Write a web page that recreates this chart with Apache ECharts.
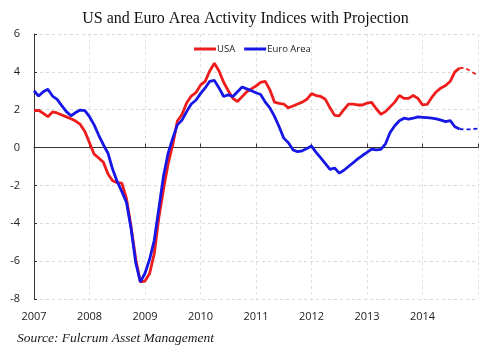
<!DOCTYPE html>
<html>
<head>
<meta charset="utf-8">
<script src="https://cdn.jsdelivr.net/npm/echarts@6/dist/echarts.min.js"></script>
<style>
html,body{margin:0;padding:0;background:#fff;}
#chart{width:491px;height:356px;}
</style>
</head>
<body>
<div id="chart"></div>
<script>
// Monthly index values, Jan 2007 .. Jan 2015
var usa = [
  1.95, 1.97, 1.81, 1.63, 1.88, 1.83, 1.72, 1.62, 1.52, 1.40, 1.22, 0.85,
  0.25, -0.35, -0.55, -0.78, -1.40, -1.75, -1.85, -1.88, -2.70, -4.20, -5.90, -7.10,
  -7.05, -6.65, -5.60, -3.70, -2.20, -0.85, 0.15, 1.40, 1.75, 2.35, 2.72, 2.90,
  3.30, 3.50, 4.05, 4.45, 4.05, 3.45, 3.00, 2.60, 2.43, 2.69, 2.95, 3.10,
  3.25, 3.45, 3.50, 3.05, 2.40, 2.34, 2.30, 2.10, 2.20, 2.30, 2.40, 2.55,
  2.85, 2.75, 2.70, 2.55, 2.10, 1.70, 1.68, 2.00, 2.30, 2.30, 2.25, 2.25,
  2.35, 2.39, 2.05, 1.76, 1.90, 2.15, 2.40, 2.75, 2.60, 2.60, 2.75, 2.60,
  2.25, 2.28, 2.65, 2.95, 3.15, 3.28, 3.50, 4.00, 4.20, 4.22, 4.10, 3.95,
  3.80
];
var euroArea = [
  3.00, 2.72, 2.95, 3.08, 2.72, 2.55, 2.22, 1.90, 1.68, 1.85, 1.98, 1.95,
  1.63, 1.20, 0.65, 0.15, -0.30, -1.15, -1.80, -2.33, -2.90, -4.30, -6.10, -7.10,
  -6.64, -5.90, -4.90, -3.20, -1.50, -0.30, 0.50, 1.20, 1.45, 1.90, 2.30, 2.50,
  2.85, 3.15, 3.50, 3.55, 3.15, 2.70, 2.78, 2.70, 2.95, 3.20, 3.10, 3.00,
  2.90, 2.80, 2.40, 2.10, 1.65, 1.10, 0.50, 0.25, -0.12, -0.22, -0.17, -0.05,
  0.08, -0.25, -0.55, -0.85, -1.15, -1.08, -1.35, -1.20, -1.00, -0.80, -0.60, -0.42,
  -0.25, -0.08, -0.12, -0.10, 0.20, 0.80, 1.15, 1.42, 1.55, 1.50, 1.55, 1.62,
  1.60, 1.58, 1.56, 1.52, 1.45, 1.37, 1.42, 1.10, 0.98, 0.96, 0.96, 0.98,
  1.00
];
var projectionStart = 92; // index of first month shown as projection (dashed)
var yearLabels = ['2007','2008','2009','2010','2011','2012','2013','2014'];
var yTicks = [-8, -6, -4, -2, 0, 2, 4, 6];

function part(arr, from, to) {
  var out = [];
  for (var i = 0; i < arr.length; i++) {
    if (i >= from && i <= to) out.push([i, arr[i]]);
  }
  return out;
}

var RED = '#ee1c1c';
var BLUE = '#1616e6';

var chart = echarts.init(document.getElementById('chart'), null, {renderer: 'canvas'});
chart.setOption({
  animation: false,
  backgroundColor: '#fff',
  title: {
    text: 'US and Euro Area Activity Indices with Projection',
    left: 'center',
    top: 6,
    textStyle: {fontFamily: 'Liberation Serif', fontWeight: 'normal', fontSize: 16, color: '#111'}
  },
  legend: {
    data: ['USA', 'Euro Area'],
    left: 189,
    top: 39,
    icon: 'rect',
    itemWidth: 22,
    itemHeight: 3,
    itemGap: 9,
    textStyle: {fontFamily: 'Open Sans', fontSize: 9.5, color: '#222', padding: [0, 0, 0, -4]}
  },
  graphic: [{
    type: 'text',
    left: 17,
    top: 331,
    style: {
      text: 'Source: Fulcrum Asset Management',
      font: 'italic 13.5px "Liberation Serif"',
      fill: '#1a1a1a'
    }
  }],
  grid: {left: 34, right: 13, top: 34, bottom: 57, containLabel: false},
  xAxis: [{
    type: 'value',
    min: 0, max: 96, interval: 12,
    position: 'bottom',
    axisLine: {show: false, onZero: false},
    axisTick: {show: false},
    axisLabel: {
      fontFamily: 'Open Sans', fontSize: 11, color: '#222', margin: 12,
      formatter: function (v) { var y = yearLabels[v / 12]; return y === undefined ? '' : y; }
    },
    splitLine: {show: true, lineStyle: {color: '#e0e0e0', type: [3, 3], width: 1}}
  }, {
    type: 'value',
    min: 0, max: 96, interval: 12,
    position: 'bottom',
    axisLine: {show: true, onZero: true, lineStyle: {color: '#333', width: 1}},
    axisTick: {show: true, inside: true, length: 4, lineStyle: {color: '#333'}},
    axisLabel: {show: false},
    splitLine: {show: false}
  }],
  yAxis: {
    type: 'value',
    min: yTicks[0], max: yTicks[yTicks.length - 1], interval: 2,
    axisLine: {show: true, lineStyle: {color: '#333', width: 1}},
    axisTick: {show: true, inside: true, length: 3, lineStyle: {color: '#333'}},
    axisLabel: {fontFamily: 'Open Sans', fontSize: 11, color: '#222', margin: 14},
    splitLine: {show: true, lineStyle: {color: '#d8d8d8', type: [3, 3], width: 1}}
  },
  series: [{
    name: 'USA', type: 'line', xAxisIndex: 0,
    data: part(usa, 0, projectionStart),
    symbol: 'none', lineStyle: {color: RED, width: 2.8}, itemStyle: {color: RED}, z: 3
  }, {
    name: 'USA', type: 'line', xAxisIndex: 0,
    data: part(usa, projectionStart, usa.length - 1),
    symbol: 'none', lineStyle: {color: RED, width: 1.8, type: [4, 3]}, itemStyle: {color: RED}, z: 3
  }, {
    name: 'Euro Area', type: 'line', xAxisIndex: 0,
    data: part(euroArea, 0, projectionStart),
    symbol: 'none', lineStyle: {color: BLUE, width: 2.8}, itemStyle: {color: BLUE}, z: 4
  }, {
    name: 'Euro Area', type: 'line', xAxisIndex: 0,
    data: part(euroArea, projectionStart, euroArea.length - 1),
    symbol: 'none', lineStyle: {color: BLUE, width: 1.8, type: [4, 3]}, itemStyle: {color: BLUE}, z: 4
  }]
});
</script>
</body>
</html>
